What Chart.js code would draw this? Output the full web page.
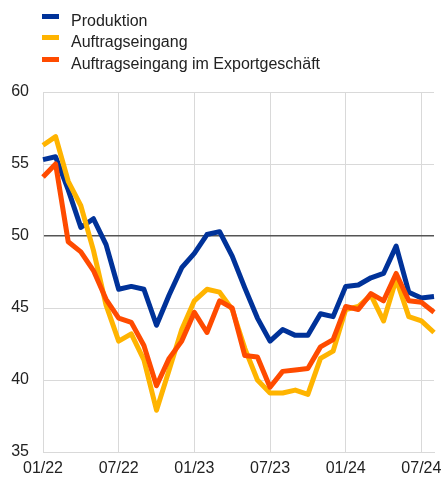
<!DOCTYPE html>
<html>
<head>
<meta charset="utf-8">
<script src="https://cdn.jsdelivr.net/npm/chart.js@4"></script>
<style>
    body { margin: 0; background: #fff; }
    #wrap { position: relative; width: 443px; height: 479px; }
    #legend { position: absolute; left: 42px; top: 10px; font-family: "Liberation Sans", Arial, sans-serif; font-size: 16px; color: #222; }
    #legend .row { height: 21.5px; display: flex; align-items: center; }
    #legend .box { width: 17px; height: 5px; margin-right: 12px; margin-top: -9px; }
</style>
</head>
<body>
<div id="wrap">
    <canvas id="chart"></canvas>
    <div id="legend"></div>
</div>
<script>
// Monate 01/22 bis 08/24
const months = [
    '01/22', '02/22', '03/22', '04/22', '05/22', '06/22', '07/22', '08/22', '09/22', '10/22', '11/22', '12/22',
    '01/23', '02/23', '03/23', '04/23', '05/23', '06/23', '07/23', '08/23', '09/23', '10/23', '11/23', '12/23',
    '01/24', '02/24', '03/24', '04/24', '05/24', '06/24', '07/24', '08/24'
];

const produktion = [
    55.3, 55.5, 53.2, 50.6, 51.2, 49.4, 46.3, 46.5, 46.3, 43.8, 45.9, 47.8,
    48.8, 50.1, 50.3, 48.6, 46.4, 44.3, 42.7, 43.5, 43.1, 43.1, 44.6, 44.4,
    46.5, 46.6, 47.1, 47.4, 49.3, 46.1, 45.7, 45.8
];

const auftragseingang = [
    56.3, 56.9, 53.8, 52.1, 49.0, 45.2, 42.7, 43.2, 41.4, 37.9, 40.7, 43.5,
    45.5, 46.3, 46.1, 44.9, 42.2, 40.0, 39.1, 39.1, 39.3, 39.0, 41.5, 42.0,
    44.9, 45.1, 45.9, 44.1, 47.0, 44.4, 44.1, 43.3
];

const exportAuftraege = [
    54.1, 55.0, 49.6, 48.9, 47.6, 45.6, 44.3, 44.0, 42.4, 39.6, 41.5, 42.7,
    44.7, 43.3, 45.5, 45.0, 41.7, 41.6, 39.5, 40.6, 40.7, 40.8, 42.3, 42.8,
    45.1, 44.9, 46.0, 45.5, 47.4, 45.5, 45.4, 44.7
];

const yTicks = [35, 40, 45, 50, 55, 60];

const series = [
    { label: 'Produktion', data: produktion, color: '#003299', order: 3 },
    { label: 'Auftragseingang', data: auftragseingang, color: '#FFB400', order: 2 },
    { label: 'Auftragseingang im Exportgeschäft', data: exportAuftraege, color: '#FF4B00', order: 1 }
];

// Legende
const legend = document.getElementById('legend');
series.forEach(function (s) {
    const row = document.createElement('div');
    row.className = 'row';
    row.innerHTML = '<span class="box" style="background:' + s.color + '"></span><span>' + s.label + '</span>';
    legend.appendChild(row);
});

const font = { family: '"Liberation Sans", Arial, sans-serif', size: 16 };

new Chart(document.getElementById('chart'), {
    type: 'line',
    data: {
        labels: months,
        datasets: series.map(function (s) {
            return {
                label: s.label,
                data: s.data,
                borderColor: s.color,
                backgroundColor: s.color,
                borderWidth: 5,
                pointRadius: 0,
                tension: 0,
                borderJoinStyle: 'round',
                order: s.order
            };
        })
    },
    options: {
        responsive: true,
        maintainAspectRatio: false,
        animation: false,
        layout: { padding: { top: 92, right: 9, left: 0, bottom: 0 } },
        plugins: { legend: { display: false }, tooltip: { enabled: false } },
        scales: {
            x: {
                offset: false,
                afterFit: function (scale) { scale.height = 27; },
                border: { display: true, color: '#d9d9d9' },
                grid: {
                    drawTicks: false,
                    color: function (ctx) { return ctx.index % 6 === 0 ? '#d9d9d9' : 'rgba(0,0,0,0)'; }
                },
                ticks: {
                    autoSkip: false,
                    maxRotation: 0,
                    padding: 7,
                    color: '#222',
                    font: font,
                    callback: function (val, i) { return i % 6 === 0 ? months[i] : ''; }
                }
            },
            y: {
                min: 35,
                max: 60,
                afterFit: function (scale) { scale.width = 43; },
                afterBuildTicks: function (scale) {
                    scale.ticks = yTicks.map(function (v) { return { value: v }; });
                },
                border: { display: true, color: '#d9d9d9' },
                grid: {
                    drawTicks: false,
                    lineWidth: function (ctx) { return ctx.tick && ctx.tick.value === 50 ? 1.5 : 1; },
                    color: function (ctx) { return ctx.tick && ctx.tick.value === 50 ? '#555' : '#d9d9d9'; }
                },
                ticks: {
                    padding: 14,
                    color: '#222',
                    font: font
                }
            }
        }
    }
});
</script>
</body>
</html>
